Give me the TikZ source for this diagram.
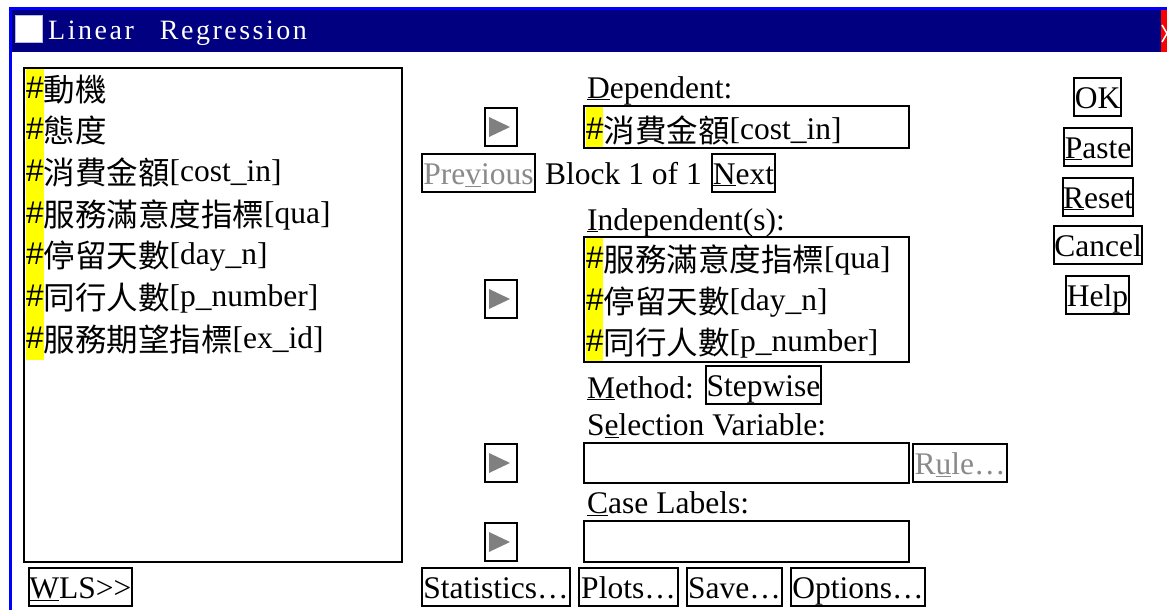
\documentclass[tikz,border=0pt]{standalone}
\usepackage{fontspec}
\setmainfont{Liberation Serif}
\newfontfamily\cjk{Noto Sans CJK TC}
\newfontfamily\hashfont{Liberation Sans}

\definecolor{titlenavy}{HTML}{000080}
\definecolor{winblue}{HTML}{0000FF}
\definecolor{closered}{HTML}{FF0000}
\definecolor{hilite}{HTML}{FFFF00}
\definecolor{disabled}{HTML}{8A8A8A}
\definecolor{arrowgray}{HTML}{808080}
\definecolor{iconedge}{HTML}{B8B8E0}

% variable marker and CJK run
\newcommand\hashmark{{\hashfont\#}}
\newcommand\zh[1]{\raisebox{-3pt}{\cjk #1}}

\begin{document}
\begin{tikzpicture}[x=1pt,y=-1pt,
  ui/.style={font=\fontsize{31.5}{40}\selectfont, inner sep=0pt},
  lbl/.style={ui, anchor=base west},
  frame/.style={draw=black, line width=2pt, inner sep=0pt, anchor=north west},
  btn/.style={frame, ui, text height=30pt, text depth=8pt, minimum height=38pt},
  arrowbtn/.style={frame, minimum width=32pt, minimum height=38pt},
  titletext/.style={anchor=base west, inner sep=0pt, text=white,
    font=\fontsize{28}{30}\selectfont\addfontfeature{LetterSpace=9}},
]
\useasboundingbox (0,0) rectangle (1167,610);
\fill[white] (0,0) rectangle (1167,610);

% window border and title bar
\fill[winblue] (9,7) rectangle (1167,10);
\fill[winblue] (9,7) rectangle (12,610);
\fill[titlenavy] (12,10) rectangle (1161,52);
\fill[closered] (1161,10) rectangle (1167,52);
\draw[white, line width=1.5pt] (1162,25) -- (1167,33.5) -- (1162,42);
\draw[iconedge, fill=white, line width=1pt] (15,16) rectangle (42,43);
\node[titletext] (title) at (48,40) {Linear\hspace{26pt}Regression};

% source variable list
\fill[hilite] (26,69) rectangle (44,360);
\node[frame, minimum width=378pt, minimum height=494pt] (srclist) at (23,67) {};
\node[lbl] (v1) at (26,98)      {\hashmark\zh{動機}};
\node[lbl] (v2) at (26,139.7)   {\hashmark\zh{態度}};
\node[lbl] (v3) at (26,181.3)   {\hashmark\zh{消費金額}[cost\_in]};
\node[lbl] (v4) at (26,223)     {\hashmark\zh{服務滿意度指標}[qua]};
\node[lbl] (v5) at (26,264.7)   {\hashmark\zh{停留天數}[day\_n]};
\node[lbl] (v6) at (26,306.3)   {\hashmark\zh{同行人數}[p\_number]};
\node[lbl] (v7) at (26,348)     {\hashmark\zh{服務期望指標}[ex\_id]};
\node[btn, minimum width=103pt] (wls) at (28,567) {\underline{W}LS>{}>};

% transfer arrow buttons
\node[arrowbtn] (ab1) at (484,107) {};
\node[arrowbtn] (ab2) at (484,279) {};
\node[arrowbtn] (ab3) at (484,443) {};
\node[arrowbtn] (ab4) at (484,522) {};
\foreach \b in {ab1,ab2,ab3,ab4}
  \fill[arrowgray] ([shift={(-12,-10)}]\b.center) -- ++(0,20) -- ++(21,-10) -- cycle;

% dependent variable
\node[lbl] (deplbl) at (587,98) {\underline{D}ependent:};
\fill[hilite] (586,107) rectangle (603,147);
\node[frame, minimum width=325pt, minimum height=42pt] (depbox) at (583,105) {};
\node[lbl] (depvar) at (586,139) {\hashmark\zh{消費金額}[cost\_in]};

% block navigation
\node[btn, minimum width=113pt, text=disabled] (prev) at (421,153) {Pre\underline{v}ious};
\node[lbl] (block) at (545,184) {Block 1 of 1};
\node[btn, minimum width=63pt] (next) at (711,153) {\underline{N}ext};

% independent variables
\node[lbl] (indlbl) at (587,230) {\underline{I}ndependent(s):};
\fill[hilite] (586,238) rectangle (603,361);
\node[frame, minimum width=325pt, minimum height=125pt] (indbox) at (583,236) {};
\node[lbl] (iv1) at (586,268) {\hashmark\zh{服務滿意度指標}[qua]};
\node[lbl] (iv2) at (586,310) {\hashmark\zh{停留天數}[day\_n]};
\node[lbl] (iv3) at (586,351) {\hashmark\zh{同行人數}[p\_number]};

% method
\node[lbl] (methlbl) at (587,398) {\underline{M}ethod:};
\node[btn, minimum width=115pt] (stepwise) at (705,365) {Stepwise};

% selection variable
\node[lbl] (sellbl) at (587,435) {S\underline{e}lection Variable:};
\node[frame, minimum width=325pt, minimum height=40pt] (selbox) at (583,442) {};
\node[btn, minimum width=94pt, text=disabled] (rule) at (912,443) {R\underline{u}le…};

% case labels
\node[lbl] (caselbl) at (587,513) {\underline{C}ase Labels:};
\node[frame, minimum width=325pt, minimum height=41pt] (casebox) at (583,520) {};

% bottom buttons
\node[btn, minimum width=148pt] (stats) at (421,567) {Statistics…};
\node[btn, minimum width=99pt]  (plots) at (578,567) {Plots…};
\node[btn, minimum width=95pt]  (save)  at (686,567) {Save…};
\node[btn, minimum width=134pt] (opts)  at (790,567) {Options…};

% dialog command buttons
\node[btn, minimum width=47pt] (ok)     at (1073,77)  {OK};
\node[btn, minimum width=68pt] (paste)  at (1063,127) {\underline{P}aste};
\node[btn, minimum width=70pt] (reset)  at (1062,177) {\underline{R}eset};
\node[btn, minimum width=88pt] (cancel) at (1053,225) {Cancel};
\node[btn, minimum width=63pt] (help)   at (1065,275) {Help};
\end{tikzpicture}
\end{document}
